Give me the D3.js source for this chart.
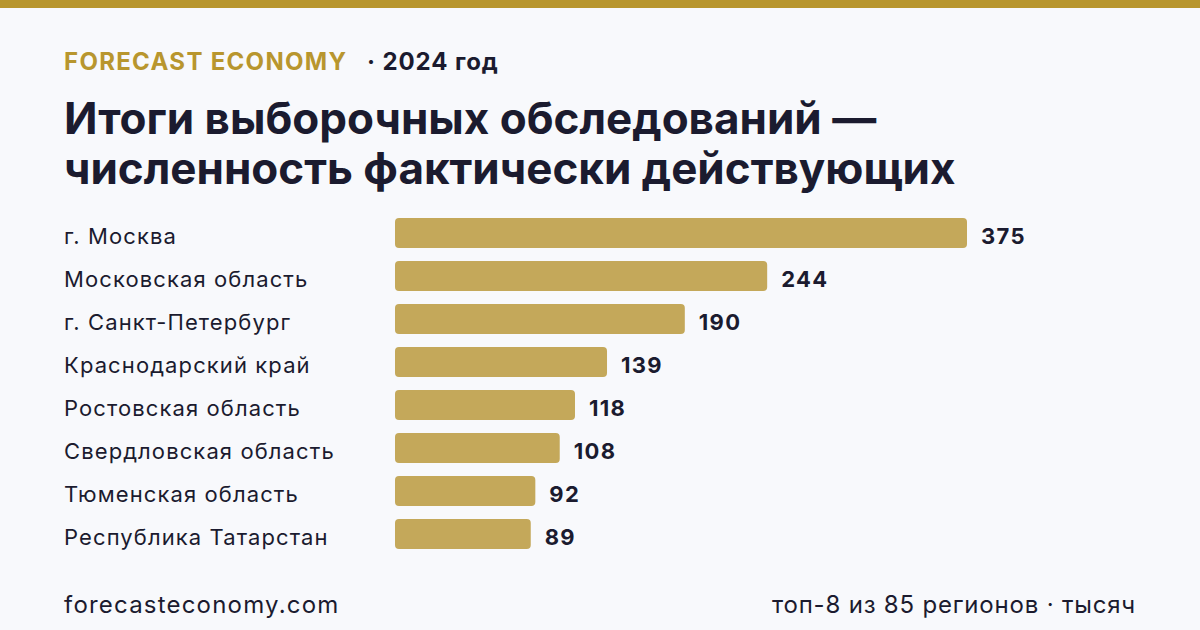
<!DOCTYPE html>
<html><head><meta charset="utf-8">
<script src="https://cdn.jsdelivr.net/npm/d3@7"></script>
<style>html,body{margin:0;padding:0;background:#f8f9fc;}svg{display:block;}</style>
</head><body>
<svg id="c" width="1200" height="630"></svg>
<script>
const categories = ["г. Москва","Московская область","г. Санкт-Петербург","Краснодарский край","Ростовская область","Свердловская область","Тюменская область","Республика Татарстан"];
const values = [375,244,190,139,118,108,92,89];

const svg = d3.select("#c");
const W = 1200, H = 630;
svg.append("rect").attr("width",W).attr("height",H).attr("fill","#f8f9fc");
svg.append("rect").attr("width",W).attr("height",8).attr("fill","#b8962e");

const font = "Inter, 'Noto Sans', sans-serif";
const dark = "#1b1b2f";

svg.append("text").attr("x",64).attr("y",70).attr("font-family",font).attr("font-size",24).attr("font-weight",700)
  .attr("letter-spacing",1.3).attr("fill","#b8962e").text("FORECAST ECONOMY");
svg.append("text").attr("x",367).attr("y",70).attr("font-family",font).attr("font-size",24).attr("font-weight",700)
  .attr("letter-spacing",0.9).attr("fill",dark).text("· 2024 год");

svg.append("text").attr("x",64).attr("y",134).attr("font-family",font).attr("font-size",44).attr("font-weight",700).attr("fill",dark).text("Итоги выборочных обследований —");
svg.append("text").attr("x",64).attr("y",184).attr("font-family",font).attr("font-size",44).attr("font-weight",700).attr("fill",dark).text("численность фактически действующих");

const x = d3.scaleLinear().domain([0,375]).range([395,967]);
const y = d3.scaleBand().domain(categories).range([211,555]).paddingInner(0.3).paddingOuter(0.15);

const g = svg.append("g");
categories.forEach((c,i)=>{
  const yy = y(c), h = y.bandwidth();
  g.append("rect").attr("x",x(0)).attr("y",yy+0.5).attr("width",x(values[i])-x(0)).attr("height",h).attr("rx",4).attr("fill","#c4a85a");
  g.append("text").attr("x",64).attr("y",yy+h/2+11).attr("font-family",font).attr("font-size",22).attr("letter-spacing",1.1).attr("fill",dark).text(c);
  g.append("text").attr("x",x(values[i])+14).attr("y",yy+h/2+11).attr("font-family",font).attr("font-size",22).attr("font-weight",700).attr("letter-spacing",1.3).attr("fill",dark).text(values[i]);
});

svg.append("text").attr("x",64).attr("y",613).attr("font-family",font).attr("font-size",24).attr("letter-spacing",1.2).attr("fill",dark).text("forecasteconomy.com");
svg.append("text").attr("x",1136).attr("y",613).attr("text-anchor","end").attr("font-family",font).attr("font-size",24).attr("letter-spacing",0.8).attr("fill",dark).text("топ-8 из 85 регионов · тысяч");
</script>
</body></html>
